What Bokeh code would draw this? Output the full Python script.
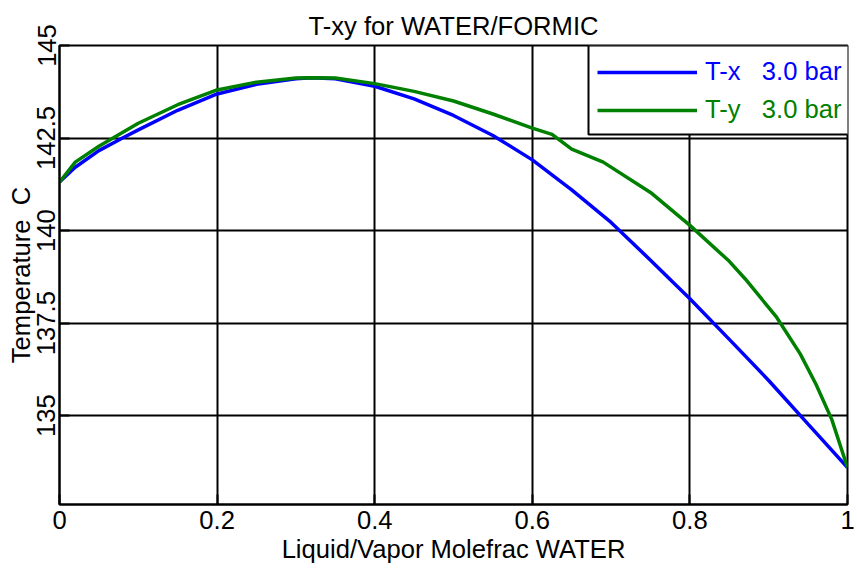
from bokeh.plotting import figure
from bokeh.models import Range1d, FixedTicker, Legend, LegendItem, BoxAnnotation
from bokeh.embed import file_html
from bokeh.resources import INLINE

# ---- data ----
x_liquid = [0.0, 0.02, 0.05, 0.08, 0.10, 0.15, 0.20, 0.25, 0.30, 0.32, 0.35, 0.40,
            0.45, 0.50, 0.55, 0.60, 0.65, 0.70, 0.75, 0.80, 0.85, 0.90, 0.95, 1.0]
t_liquid = [141.31, 141.71, 142.16, 142.50, 142.72, 143.25, 143.69, 143.95, 144.10, 144.13,
            144.10, 143.90, 143.56, 143.11, 142.57, 141.91, 141.10, 140.22, 139.20, 138.16,
            137.06, 135.95, 134.77, 133.60]

y_vapor = [0.0, 0.02, 0.05, 0.10, 0.15, 0.20, 0.25, 0.30, 0.32, 0.35, 0.40, 0.45, 0.50,
           0.55, 0.60, 0.625, 0.65, 0.69, 0.75, 0.80, 0.85, 0.87, 0.91, 0.94, 0.96, 0.98, 1.0]
t_vapor = [141.31, 141.85, 142.28, 142.90, 143.40, 143.80, 144.01, 144.12, 144.13, 144.12,
           143.97, 143.76, 143.50, 143.15, 142.77, 142.60, 142.20, 141.85, 141.03, 140.14,
           139.17, 138.70, 137.66, 136.67, 135.85, 134.90, 133.60]

x_ticks = [0, 0.2, 0.4, 0.6, 0.8, 1]
x_tick_labels = ["0", "0.2", "0.4", "0.6", "0.8", "1"]
y_ticks = [135, 137.5, 140, 142.5, 145]
y_tick_labels = ["135", "137.5", "140", "142.5", "145"]

title_text = "T-xy for WATER/FORMIC"
x_label = "Liquid/Vapor Molefrac WATER"
y_label = "Temperature\u00a0\u00a0C"
legend_x = "T-x   3.0 bar"
legend_y = "T-y   3.0 bar"

FONT = "Liberation Sans"
FS = "25.6px"

p = figure(width=857, height=569, output_backend="svg", toolbar_location=None,
           x_range=Range1d(0, 1), y_range=Range1d(132.6, 145),
           min_border_left=59, min_border_right=10, min_border_top=45, min_border_bottom=65)

p.title.text = title_text
p.title.align = "center"
p.title.text_font = FONT
p.title.text_font_size = FS
p.title.text_font_style = "normal"
p.title.text_color = "black"
p.title.standoff = 11

p.outline_line_color = "black"
p.outline_line_width = 2
p.background_fill_color = "white"
p.border_fill_color = "white"

for ax in (p.xaxis[0], p.yaxis[0]):
    ax.axis_line_color = "black"
    ax.axis_line_width = 2
    ax.major_tick_line_color = "black"
    ax.major_tick_line_width = 2
    ax.major_tick_in = 10
    ax.major_tick_out = 0
    ax.minor_tick_line_color = None
    ax.major_label_text_font = FONT
    ax.major_label_text_font_size = FS
    ax.major_label_text_color = "black"
    ax.axis_label_text_font = FONT
    ax.axis_label_text_font_size = FS
    ax.axis_label_text_font_style = "normal"
    ax.axis_label_text_color = "black"

p.xaxis[0].ticker = FixedTicker(ticks=x_ticks)
p.xaxis[0].major_label_overrides = {t: s for t, s in zip(x_ticks, x_tick_labels)}
p.xaxis[0].axis_label = x_label
p.xaxis[0].major_label_standoff = 6
p.xaxis[0].axis_label_standoff = 3

p.yaxis[0].ticker = FixedTicker(ticks=y_ticks)
p.yaxis[0].major_label_overrides = {t: s for t, s in zip(y_ticks, y_tick_labels)}
p.yaxis[0].major_label_orientation = "vertical"
p.yaxis[0].axis_label = y_label
p.yaxis[0].major_label_standoff = 4
p.yaxis[0].axis_label_standoff = 0

p.xgrid[0].ticker = FixedTicker(ticks=x_ticks)
p.ygrid[0].ticker = FixedTicker(ticks=y_ticks)
for g in (p.xgrid[0], p.ygrid[0]):
    g.grid_line_color = "black"
    g.grid_line_width = 2
    g.grid_line_alpha = 1.0

r_x = p.line(x_liquid, t_liquid, line_color="#0000FF", line_width=3.5)
r_y = p.line(y_vapor, t_vapor, line_color="#008000", line_width=3.5)

box = BoxAnnotation(left=588, right=849, top=45, bottom=134,
                    left_units="canvas", right_units="canvas",
                    top_units="canvas", bottom_units="canvas",
                    fill_color="white", fill_alpha=1.0,
                    line_color="black", line_width=2, line_alpha=1.0)
p.add_layout(box)

def make_legend(item_label, renderer, color, loc):
    lg = Legend(items=[LegendItem(label=item_label, renderers=[renderer])],
                location=loc, padding=0, margin=0, spacing=0,
                glyph_width=100, glyph_height=20, label_standoff=8,
                label_text_font=FONT, label_text_font_size=FS,
                label_text_color=color,
                border_line_color=None, background_fill_alpha=0.0)
    return lg

p.add_layout(make_legend(legend_x, r_x, "#0000FF", (538, 418)))
p.add_layout(make_legend(legend_y, r_y, "#008000", (538, 380)))

open("out.html", "w").write(file_html(p, INLINE))
